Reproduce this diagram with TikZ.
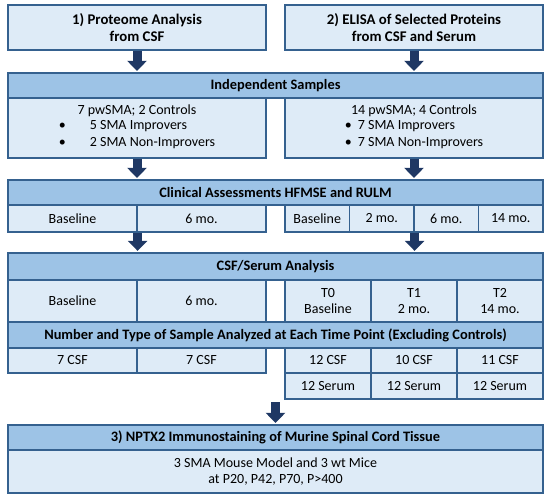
\documentclass[tikz,border=0pt]{standalone}
\usepackage{fontspec}
\setmainfont{Carlito}
\usetikzlibrary{arrows.meta}

\definecolor{hdrblue}{HTML}{9DC3E6}
\definecolor{cellblue}{HTML}{DEEBF7}
\definecolor{edgeblue}{HTML}{35618F}
\definecolor{navy}{HTML}{1F3864}

\tikzset{
  cell/.style={draw=edgeblue, line width=1.2pt, fill=cellblue, inner sep=0pt,
    align=center, font=\fontsize{14}{16.5}\selectfont},
  hdr/.style={cell, fill=hdrblue, font=\fontsize{14.4}{17}\selectfont\bfseries},
  title/.style={cell, font=\fontsize{14.8}{17}\selectfont\bfseries},
  flow/.style={navy, line width=9pt, -{Triangle[width=19pt,length=10pt]}, shorten >=1.5pt}
}

\begin{document}
\begin{tikzpicture}[x=1pt, y=-1pt]
    \useasboundingbox (0,0) rectangle (550,501);

    % starting points
    \node[title, minimum width=258pt, minimum height=45pt] (src1) at (137,27.5) {1) Proteome Analysis\\from CSF};
    \node[title, minimum width=258pt, minimum height=45pt] (src2) at (414,27.5) {2) ELISA of Selected Proteins\\from CSF and Serum};

    % samples
    \node[hdr, minimum width=535pt, minimum height=25pt] (indep) at (275.5,85.5) {Independent Samples};
    \node[cell, minimum width=258pt, minimum height=60pt] (indepL) at (137,128) {7 pwSMA; 2 Controls\\
      \begin{tabular}{@{}l@{}}\textbullet\hspace{24pt}5 SMA Improvers\\\textbullet\hspace{24pt}2 SMA Non-Improvers\end{tabular}};
    \node[cell, minimum width=258pt, minimum height=60pt] (indepR) at (414,128) {14 pwSMA; 4 Controls\\
      \begin{tabular}{@{}l@{}}\textbullet\hspace{6pt}7 SMA Improvers\\\textbullet\hspace{6pt}7 SMA Non-Improvers\end{tabular}};

    % clinical assessments
    \node[hdr, minimum width=535pt, minimum height=25pt] (clin) at (275.5,192.5) {Clinical Assessments HFMSE and RULM};
    \node[cell, minimum width=129pt, minimum height=27pt] (clinL1) at (72.5,218.5) {Baseline};
    \node[cell, minimum width=129pt, minimum height=27pt] (clinL2) at (201.5,218.5) {6 mo.};
    \node[cell, minimum width=64.5pt, minimum height=27pt] (clinR1) at (317.25,218.5) {Baseline};
    \node[cell, minimum width=64.5pt, minimum height=27pt] (clinR2) at (381.75,218.5) {2 mo.};
    \node[cell, minimum width=64.5pt, minimum height=27pt] (clinR3) at (446.25,218.5) {6 mo.};
    \node[cell, minimum width=64.5pt, minimum height=27pt] (clinR4) at (510.75,218.5) {14 mo.};

    % CSF/serum analysis
    \node[hdr, minimum width=535pt, minimum height=27pt] (csf) at (275.5,266.5) {CSF/Serum Analysis};
    \node[cell, minimum width=129pt, minimum height=42pt] (csfL1) at (72.5,301) {Baseline};
    \node[cell, minimum width=129pt, minimum height=42pt] (csfL2) at (201.5,301) {6 mo.};
    \node[cell, minimum width=86pt, minimum height=42pt] (csfR1) at (328,301) {T0\\Baseline};
    \node[cell, minimum width=86pt, minimum height=42pt] (csfR2) at (414,301) {T1\\2 mo.};
    \node[cell, minimum width=86pt, minimum height=42pt] (csfR3) at (500,301) {T2\\14 mo.};

    % samples per time point
    \node[hdr, minimum width=535pt, minimum height=26pt] (num) at (275.5,335) {Number and Type of Sample Analyzed at Each Time Point (Excluding Controls)};
    \node[cell, minimum width=129pt, minimum height=25pt] (numL1) at (72.5,360.5) {7 CSF};
    \node[cell, minimum width=129pt, minimum height=25pt] (numL2) at (201.5,360.5) {7 CSF};
    \node[cell, minimum width=86pt, minimum height=25pt] (numR1) at (328,360.5) {12 CSF};
    \node[cell, minimum width=86pt, minimum height=25pt] (numR2) at (414,360.5) {10 CSF};
    \node[cell, minimum width=86pt, minimum height=25pt] (numR3) at (500,360.5) {11 CSF};
    \node[cell, minimum width=86pt, minimum height=26pt] (serR1) at (328,386) {12 Serum};
    \node[cell, minimum width=86pt, minimum height=26pt] (serR2) at (414,386) {12 Serum};
    \node[cell, minimum width=86pt, minimum height=26pt] (serR3) at (500,386) {12 Serum};

    % mouse tissue
    \node[hdr, minimum width=535pt, minimum height=25pt] (nptx) at (275.5,437.5) {3) NPTX2 Immunostaining of Murine Spinal Cord Tissue};
    \node[cell, minimum width=535pt, minimum height=43pt] (mice) at (275.5,471.5) {3 SMA Mouse Model and 3 wt Mice\\at P20, P42, P70, P>400};

    % arrows
    \coordinate (split) at (275.5,402);
    \draw[flow] (src1.south) -- (src1.south |- indep.north);
    \draw[flow] (src2.south) -- (src2.south |- indep.north);
    \draw[flow] (indepL.south) -- (indepL.south |- clin.north);
    \draw[flow] (indepR.south) -- (indepR.south |- clin.north);
    \draw[flow] (clinL1.south east) -- (clinL1.south east |- csf.north);
    \draw[flow] (clinR2.south east) -- (clinR2.south east |- csf.north);
    \draw[flow] (split) -- (split |- nptx.north);
\end{tikzpicture}
\end{document}
